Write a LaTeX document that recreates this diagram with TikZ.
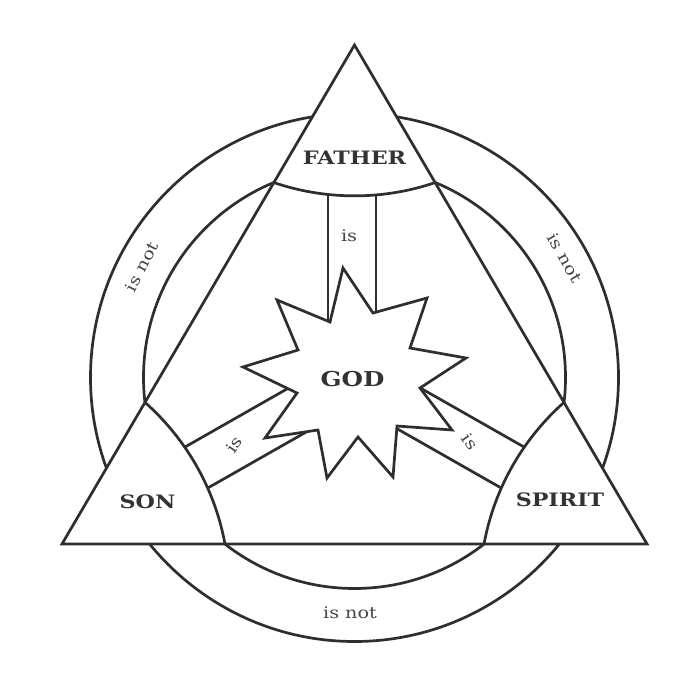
\documentclass[tikz,border=0pt]{standalone}
\usepackage{fontspec}
\setmainfont{DejaVu Serif}
\newfontfamily\widefont[FakeStretch=1.2]{DejaVu Serif}
\begin{document}
\begin{tikzpicture}[x=1pt,y=-1pt,line width=2.7pt,
  namelbl/.style={font=\widefont\bfseries\fontsize{18.5}{20}\selectfont,inner sep=0pt,text=black!80},
  godlbl/.style={font=\widefont\bfseries\fontsize{20.5}{22}\selectfont,inner sep=0pt,text=black!80},
  rel/.style={font=\widefont\fontsize{16}{18}\selectfont,inner sep=0pt,text=black!72},
  ring/.style={draw=black!82},
  edge/.style={draw=black!82,line join=miter}]
\useasboundingbox (0,0) rectangle (693,679);
\fill[white] (0,0) rectangle (693,679);
% main points
\coordinate (C) at (354.5,377.5);
\coordinate (T) at (354.5,45);
\coordinate (L) at (62,544);
\coordinate (R) at (647,544);
% circles
\draw[ring] (C) circle[radius=264];
\draw[ring] (C) circle[radius=211];
\fill[white] (T)--(L)--(R)--cycle;
% "is" bands
\coordinate (fa1) at (328,150);  \coordinate (fb1) at (328,377);
\coordinate (fa2) at (376,150);  \coordinate (fb2) at (376,377);
\coordinate (sa1) at (120,484);  \coordinate (sb1) at (354,350.8);
\coordinate (sa2) at (150,520.9);\coordinate (sb2) at (354,404.8);
\coordinate (pa1) at (589,484);  \coordinate (pb1) at (355,350.8);
\coordinate (pa2) at (559,520.9);\coordinate (pb2) at (355,404.8);
\draw[edge] (fa1)--(fb1) (fa2)--(fb2);
\draw[edge] (sa1)--(sb1) (sa2)--(sb2);
\draw[edge] (pa1)--(pb1) (pa2)--(pb2);
% star
\draw[edge,fill=white] (343,268)--(373,313)--(427,298)--(410,348)--(466,358)--(420,388)
  --(452,430)--(397,426)--(393,477)--(358,437)--(327,478)--(318,430)--(265,438)
  --(297,393)--(243,367)--(298,350)--(277,300)--(330,322)--cycle;
% vertex regions
\begin{scope}
  \clip (T)--(L)--(R)--cycle;
  \draw[edge,fill=white] (354.5,-54.15) circle[radius=250];
  \draw[edge,fill=white] (-20.92,589.4) circle[radius=250];
  \draw[edge,fill=white] (729.92,589.4) circle[radius=250];
\end{scope}
% triangle
\draw[edge] (T)--(L)--(R)--cycle;
% labels
\node[namelbl] (father) at (354.5,158) {FATHER};
\node[godlbl] (god) at (352.5,379) {GOD};
\node[namelbl] (son) at (147.5,502) {SON};
\node[namelbl] (spirit) at (560,500) {SPIRIT};
\node[rel] (isf) at (349,236) {is};
\node[rel,rotate=55] (iss) at (234,445) {is};
\node[rel,rotate=-55] (isp) at (470,442) {is};
\node[rel,rotate=62.5] (nl) at (141.7,266.7) {is not};
\node[rel,rotate=-60.5] (nr) at (565,258) {is not};
\node[rel] (nb) at (350,613) {is not};
\end{tikzpicture}
\end{document}
